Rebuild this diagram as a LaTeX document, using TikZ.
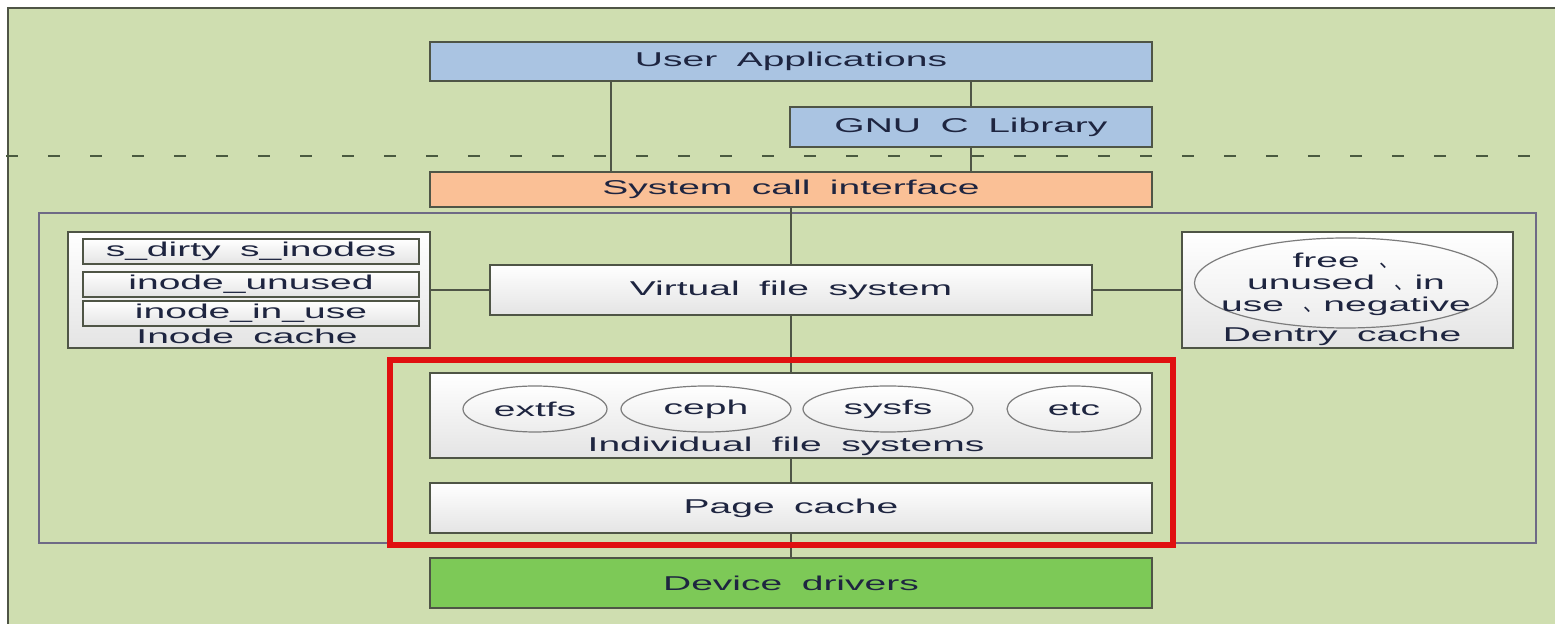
\documentclass[tikz,border=0pt]{standalone}
\usepackage{fontspec}
\setmainfont{Liberation Sans}[FakeStretch=1.95,WordSpace=1.8]
\newfontfamily\cjk{Noto Sans CJK SC}
\usetikzlibrary{shapes.geometric}

\definecolor{bg}{HTML}{CFDEB0}
\definecolor{ublue}{HTML}{AAC4E2}
\definecolor{sorange}{HTML}{FAC096}
\definecolor{dgreen}{HTML}{7DC957}
\definecolor{edgec}{HTML}{4F5546}
\definecolor{kernc}{HTML}{6E6A85}
\definecolor{txt}{HTML}{1E2540}
\definecolor{wbot}{HTML}{E4E4E4}
\definecolor{ellgray}{HTML}{7C7C7C}
\definecolor{hlred}{HTML}{E01010}
\definecolor{sepc}{HTML}{4A5A40}

\newcommand{\boxfont}{\fontsize{10}{11}\selectfont}
\newcommand{\sepmark}{{\cjk 、}}

\begin{document}
\begin{tikzpicture}[x=0.5pt,y=-0.5pt,
  box/.style={draw=edgec, line width=0.75pt, inner sep=0pt, text=txt, font=\boxfont},
  bluebox/.style={box, fill=ublue},
  orangebox/.style={box, fill=sorange},
  greenbox/.style={box, fill=dgreen},
  wbox/.style={box, top color=white, bottom color=wbot},
  wide/.style={minimum width=361pt},
  fsell/.style={ellipse, draw=ellgray, line width=0.6pt, top color=white, bottom color=wbot!70,
    minimum height=23pt, inner sep=0pt, font=\boxfont, text=txt},
  lbl/.style={inner sep=0pt, font=\boxfont, text=txt, align=center},
  conn/.style={draw=edgec, line width=0.75pt},
  kernbox/.style={draw=kernc, line width=0.8pt, inner sep=0pt},
  hlbox/.style={draw=hlred, line width=2.6pt, inner sep=0pt},
  sepline/.style={draw=sepc, line width=1.3pt, dash pattern=on 6pt off 15pt, dash phase=18pt},
  frame/.style={draw=edgec, line width=0.8pt}]

\useasboundingbox (0,0) rectangle (1555,624);
\fill[white] (0,0) rectangle (1555,624);
\fill[bg] (8,8) rectangle (1555,624);
\draw[frame] (8,624) -- (8,8) -- (1560,8);

% user / kernel boundary
\coordinate (sepL) at (0,156);
\coordinate (sepR) at (1560,156);
\draw[sepline] (sepL) -- (sepR);

% user space
\node[bluebox, wide, minimum height=19.5pt] (ua) at (791,61.5) {User Applications};
\node[bluebox, minimum width=181pt, minimum height=20pt] (gnu) at (971,127) {GNU C Library};
\node[orangebox, wide, minimum height=17.5pt] (sc) at (791,189.5) {System call interface};

% kernel
\node[kernbox, minimum width=748.5pt, minimum height=165pt] (kern) at (787.5,378) {};

\node[wbox, minimum width=301pt, minimum height=25pt] (vfs) at (791,290) {Virtual file system};

% inode cache
\node[wbox, minimum width=181pt, minimum height=58pt] (ino) at (249,290) {};
\node[wbox, minimum width=168pt, minimum height=12.5pt] (ino1) at (251,251.5) {s\_dirty s\_inodes};
\node[wbox, minimum width=168pt, minimum height=12.5pt] (ino2) at (251,284.5) {inode\_unused};
\node[wbox, minimum width=168pt, minimum height=12.5pt] (ino3) at (251,313.5) {inode\_in\_use};
\node[lbl] (inol) at (247,336) {Inode cache};

% dentry cache
\node[wbox, minimum width=165.5pt, minimum height=58pt] (den) at (1347.5,290) {};
\node[fsell, minimum width=151.5pt, minimum height=45pt] (dell) at (1346,283) {};
\node[lbl] (delt) at (1346,284)
  {free \sepmark\\unused \sepmark in\\use \sepmark negative};
\node[lbl] (denl) at (1342,336) {Dentry cache};

% individual file systems
\node[wbox, wide, minimum height=42.5pt] (ifs) at (791,415.5) {};
\node[fsell, minimum width=72pt] (fs1) at (535,409) {extfs};
\node[fsell, minimum width=85pt] (fs2) at (706,409) {ceph};
\node[fsell, minimum width=85pt] (fs3) at (888,409) {sysfs};
\node[fsell, minimum width=67pt] (fs4) at (1074,409) {etc};
\node[lbl] (ifsl) at (786,446) {Individual file systems};

\node[wbox, wide, minimum height=25pt] (pc) at (791,508) {Page cache};
\node[greenbox, wide, minimum height=25pt] (dd) at (791,583) {Device drivers};

% connectors
\coordinate (appx) at (611,0);
\draw[conn] (appx |- ua.south) -- (appx |- sc.north);
\draw[conn] (gnu.north |- ua.south) -- (gnu.north);
\draw[conn] (gnu.south) -- (gnu.south |- sc.north);
\draw[conn] (sc.south -| vfs.north) -- (vfs.north);
\draw[conn] (ino.east) -- (vfs.west);
\draw[conn] (vfs.east) -- (den.west);
\draw[conn] (vfs.south) -- (vfs.south |- ifs.north);
\draw[conn] (ifs.south -| vfs.south) -- (pc.north -| vfs.south);
\draw[conn] (pc.south -| vfs.south) -- (dd.north -| vfs.south);

% highlighted region
\node[hlbox, minimum width=391.5pt, minimum height=92.5pt] (hl) at (781.5,452.5) {};
\end{tikzpicture}
\end{document}
